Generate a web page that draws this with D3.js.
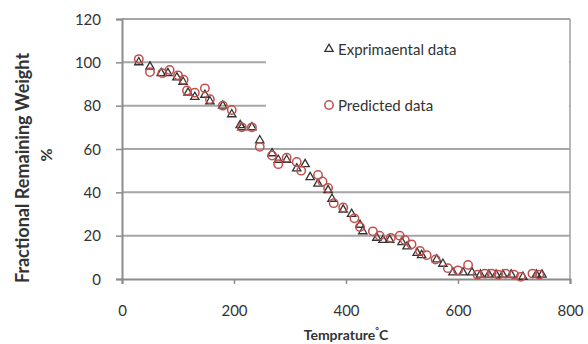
<!DOCTYPE html>
<html>
<head>
<meta charset="utf-8">
<script src="https://cdn.jsdelivr.net/npm/d3@7"></script>
<style>
  body { margin: 0; background: #fff; }
  text { font-family: Lato, "Open Sans", sans-serif; fill: #333; }
</style>
</head>
<body>
<svg id="chart" width="588" height="344"></svg>
<script>
// temperature (C), weight (%)
const experimental = [
  [30,100],[50,98],[70,95],[82,95],[98,93],[109,91],[118,86],[130,84],[148,85],[157,82],
  [180,80],[196,76],[211,71],[214,70],[232,70],[246,64],[268,58],[279,55],[294,55],[312,51],
  [327,53],[336,47],[350,44],[368,41],[375,37],[395,32],[410,30],[425,25],[430,22],[455,19],
  [466,18],[478,18],[500,17],[509,15],[527,12],[535,11],[562,9],[573,7],[591,3],[609,3],
  [625,3],[640,2],[655,2],[668,2],[680,2],[695,2],[716,1],[740,2],[750,2]
];
const predicted = [
  [30,101.5],[50,95.5],[72,95],[85,96.5],[100,94],[110,92],[116,87],[130,86],[148,88],[157,83],
  [180,80],[196,78],[214,70],[232,70],[246,61],[268,57],[279,53],[294,56],[312,54],[320,50],
  [350,48],[358,45],[368,42],[378,35],[395,33],[415,28],[425,24],[448,22],[460,20],[480,19],
  [496,20],[505,18],[517,16],[532,13],[544,11],[560,9],[582,5],[600,4],[618,6.5],[635,2],
  [648,2.5],[660,2.5],[672,2],[685,2.5],[700,2],[712,1],[733,2.5],[745,2]
];
const xTicks = [0, 200, 400, 600, 800];
const yTicks = [0, 20, 40, 60, 80, 100, 120];
const seriesNames = ['Exprimaental data', 'Predicted data'];

const margin = { left: 122, right: 18, top: 19, bottom: 65 };
const svg = d3.select('#chart');
const width = 588 - margin.left - margin.right;
const height = 344 - margin.top - margin.bottom;

const x = d3.scaleLinear().domain([0, 800]).range([0, width]);
const y = d3.scaleLinear().domain([0, 120]).range([height, 0]);

const g = svg.append('g').attr('transform', `translate(${margin.left},${margin.top})`);

// gridlines
g.selectAll('.grid').data(yTicks.filter(d => d > 0)).enter().append('line')
  .attr('x1', 0).attr('x2', width)
  .attr('y1', d => y(d)).attr('y2', d => y(d))
  .attr('stroke', '#a6a6a6').attr('stroke-width', 2);

// legend backdrop hides the grid behind it
g.append('rect').attr('x', 144).attr('y', 8).attr('width', width - 145).attr('height', 98).attr('fill', '#fff');

// right border
g.append('line').attr('x1', width).attr('x2', width).attr('y1', 0).attr('y2', height)
  .attr('stroke', '#a0a0a0').attr('stroke-width', 1.5);

// axes
const xAxis = g.append('g').attr('transform', `translate(0,${height})`)
  .call(d3.axisBottom(x).tickValues(xTicks).tickSize(5).tickPadding(21));
const yAxis = g.append('g')
  .call(d3.axisLeft(y).tickValues(yTicks).tickSize(6).tickPadding(15));
[xAxis, yAxis].forEach(a => {
  a.select('.domain').attr('stroke', '#8c8c8c').attr('stroke-width', 2);
  a.selectAll('.tick line').attr('stroke', '#8c8c8c').attr('stroke-width', 1.5);
  a.selectAll('.tick text').style('font-family', 'Lato, sans-serif').style('font-size', '15px').attr('fill', '#333');
});
yAxis.selectAll('.tick text').attr('dy', '0.35em');

// markers
const tri = d3.symbol().type(d3.symbolTriangle).size(30);
g.selectAll('.exp').data(experimental).enter().append('path')
  .attr('d', tri)
  .attr('transform', d => `translate(${x(d[0])},${y(d[1])})`)
  .attr('fill', 'none').attr('stroke', '#333').attr('stroke-width', 1.3);
g.selectAll('.pred').data(predicted).enter().append('circle')
  .attr('cx', d => x(d[0])).attr('cy', d => y(d[1])).attr('r', 4.2)
  .attr('fill', 'none').attr('stroke', '#c0504d').attr('stroke-width', 1.5);

// legend
const lg = svg.append('g');
lg.append('path').attr('d', tri).attr('transform', 'translate(329,49)')
  .attr('fill', 'none').attr('stroke', '#333').attr('stroke-width', 1.3);
lg.append('circle').attr('cx', 329).attr('cy', 105).attr('r', 4.2)
  .attr('fill', 'none').attr('stroke', '#c0504d').attr('stroke-width', 1.5);
lg.append('text').attr('x', 338).attr('y', 55).style('font-size', '15px').text(seriesNames[0]);
lg.append('text').attr('x', 338).attr('y', 111).style('font-size', '15px').text(seriesNames[1]);

// axis titles
svg.append('text').attr('transform', 'translate(29,168) rotate(-90)')
  .attr('text-anchor', 'middle').style('font-weight', 'bold').style('font-size', '18px')
  .text('Fractional Remaining Weight');
svg.append('text').attr('transform', 'translate(52,155) rotate(-90)')
  .attr('text-anchor', 'middle').style('font-weight', 'bold').style('font-size', '16px')
  .text('%');
const xt = svg.append('text').attr('x', margin.left + width / 2).attr('y', 340)
  .attr('text-anchor', 'middle').style('font-weight', 'bold').style('font-size', '14px');
xt.append('tspan').text('Temprature');
xt.append('tspan').attr('dy', '-6').style('font-size', '9px').text('°');
xt.append('tspan').attr('dy', '6').text('C');
</script>
</body>
</html>
